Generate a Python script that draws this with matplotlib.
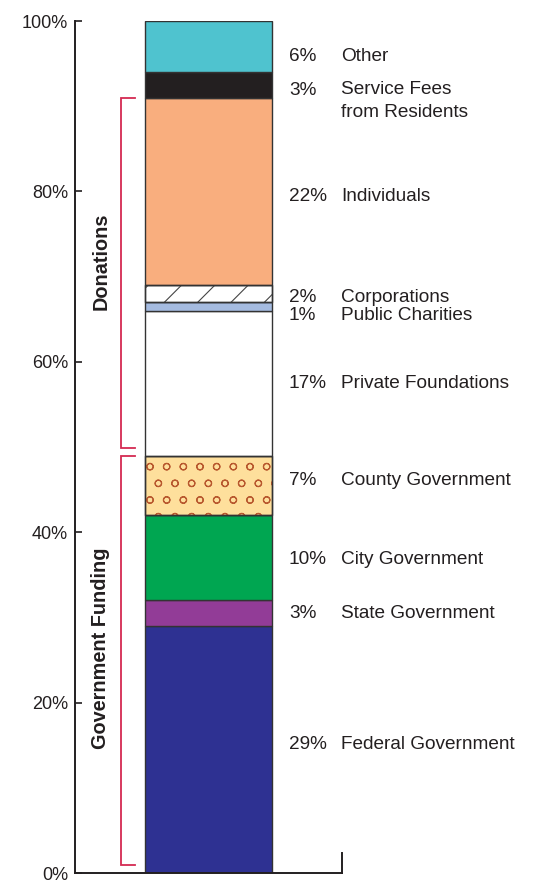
import matplotlib
matplotlib.use("Agg")
import matplotlib.pyplot as plt
import numpy as np

plt.rcParams['font.family'] = ['Liberation Sans', 'DejaVu Sans']
plt.rcParams['hatch.linewidth'] = 0.8

categories = ["Federal Government", "State Government", "City Government", "County Government",
              "Private Foundations", "Public Charities", "Corporations", "Individuals",
              "Service Fees\nfrom Residents", "Other"]
values = [29, 3, 10, 7, 17, 1, 2, 22, 3, 6]
colors = ["#2e3192", "#923c97", "#00a651", "#fedf9c", "#ffffff", "#a5bbe0", "#ffffff",
          "#f9ae7e", "#231f20", "#4fc3cf"]
hatches = [None, None, None, "o", None, None, "/", None, None, None]
hatch_colors = [None, None, None, "#b8582e", None, None, "#444444", None, None, None]
groups = ["Government Funding", "Donations"]
group_ranges = [(0, 4), (4, 8)]  # index ranges into categories
yticks = [0, 20, 40, 60, 80, 100]
ytick_labels = ["0%", "20%", "40%", "60%", "80%", "100%"]

fig = plt.figure(figsize=(5.4, 8.82), dpi=100)
ax = fig.add_axes([75/540, 9/882, 267/540, (873-21)/882])
ax.set_xlim(0, 1)
ax.set_ylim(0, 100)

bottoms = np.concatenate([[0], np.cumsum(values)[:-1]])
for i, (v, b) in enumerate(zip(values, bottoms)):
    ax.bar(0.5, v, bottom=b, width=0.476, color=colors[i], edgecolor="#333333",
           linewidth=1.0, zorder=2)
    if hatches[i]:
        ax.bar(0.5, v, bottom=b, width=0.476, color="none", edgecolor=hatch_colors[i],
               hatch=hatches[i], linewidth=0, zorder=3)
        ax.bar(0.5, v, bottom=b, width=0.476, color="none", edgecolor="#333333",
               linewidth=1.0, zorder=4)

# labels
centers = bottoms + np.array(values) / 2
label_y = centers.copy()
# nudge labels to sit like the original
label_y[9] -= 1.2
label_y[8] -= 0.65
label_y[7] -= 0.6
label_y[6] -= 0.5
label_y[5] -= 1.1
label_y[3] += 0.6
label_y[2] -= 0.2
label_y[1] -= 0.1
label_y[0] += 0.6
fs = 13.7
for i, (v, c) in enumerate(zip(values, label_y)):
    ax.text(0.801, c, f"{v}%", ha="left", va="center", fontsize=fs, color="#231f20")
    if "\n" in categories[i]:
        ax.text(0.996, c + 1.05, categories[i], ha="left", va="top", fontsize=fs,
                color="#231f20", linespacing=1.4, clip_on=False)
    else:
        ax.text(0.996, c, categories[i], ha="left", va="center", fontsize=fs,
                color="#231f20", clip_on=False)

# group brackets
cum = np.cumsum(values)
for name, (a, b) in zip(groups, group_ranges):
    lo = bottoms[a] + 0.9
    hi = cum[b - 1]
    ax.plot([0.225, 0.172, 0.172, 0.225], [hi, hi, lo, lo], color="#d42a52",
            linewidth=1.3, zorder=1, solid_joinstyle="miter")
    ax.text(0.097, (lo + hi) / 2 + 1.4, name, rotation=90, ha="center", va="center",
            fontsize=14.3, fontweight="bold", color="#231f20")

ax.spines["top"].set_visible(False)
for s in ["left", "bottom", "right"]:
    ax.spines[s].set_linewidth(1.4)
    ax.spines[s].set_color("#231f20")
ax.spines["right"].set_bounds(0, 2.3)
ax.set_xticks([])
ax.set_yticks(yticks)
ax.set_yticklabels(ytick_labels, fontsize=13, color="#231f20")
ax.tick_params(axis="y", direction="in", length=5, width=1.2, pad=5, color="#231f20")

fig.savefig("out.png", dpi=100)
